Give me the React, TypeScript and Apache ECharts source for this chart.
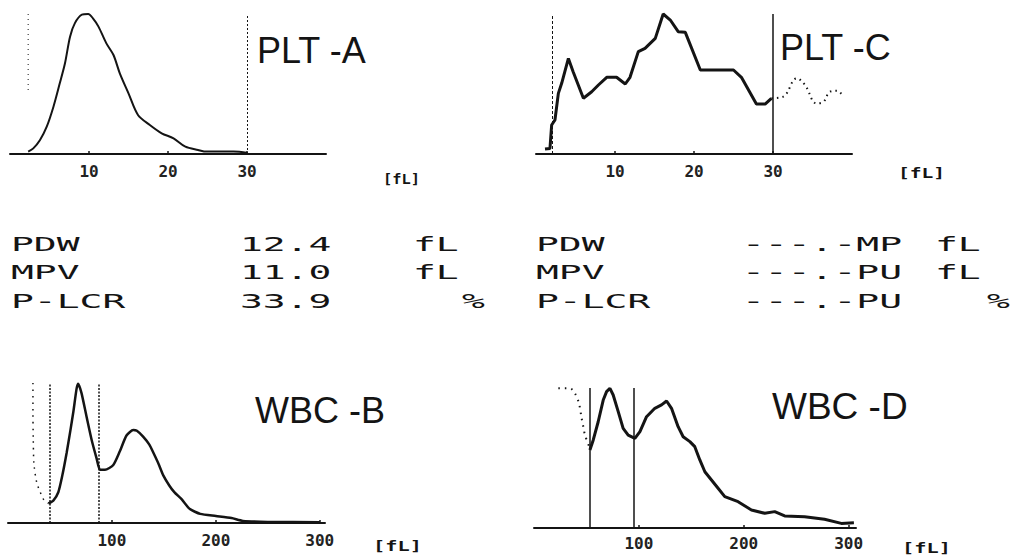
import React, { useEffect, useRef } from "react";
import * as echarts from "echarts";

// ---------------- data (x in fL, y = relative frequency, 0..100) ----------------
// PLT-A histogram
const pltAX = [2.3, 2.95, 3.8, 4.65, 5.5, 6.3, 6.96, 7.6, 8.2, 9.1, 9.9, 10.5, 11.2, 12.2, 13.1, 13.9, 15.0, 16.2, 17.7, 19.2, 20.7, 22.2, 23.8, 24.9, 28.3, 30.1];
const pltAY = [1.7, 4, 10, 19.5, 33.8, 50.5, 64.8, 83.8, 93.3, 99.5, 100, 96.9, 91, 79, 70.7, 57.6, 43.3, 27.9, 20.7, 14.8, 11.2, 5.2, 2.9, 1.7, 1.7, 0.7];
const pltALowerX = [2.3, 2.3];
const pltALowerY = [100, 44];
const pltAThresholds = [30];

// PLT-C histogram
const pltCX = [1.14, 1.77, 1.98, 2.4, 2.83, 3.25, 4.1, 4.7, 6.0, 7.05, 7.9, 8.95, 10.2, 11.3, 11.9, 12.95, 13.8, 15.1, 16.1, 17.0, 18.0, 18.9, 20.8, 25.0, 26.0, 27.9, 29.0, 29.8];
const pltCY = [3.6, 4, 20.7, 24.3, 43.3, 50.5, 68.3, 58.8, 39.8, 44.5, 49.3, 54.8, 54.8, 50, 54.8, 73.1, 75.5, 82.6, 100, 95.7, 87.4, 86.9, 60, 60, 54.8, 35.7, 35.7, 39.8];
const pltCDotX = [29.8, 31.3, 33.0, 34.05, 35.5, 36.4, 37.2, 38.1, 38.9];
const pltCDotY = [39.8, 41, 54, 49.3, 36.2, 37.4, 44.5, 45.2, 41];
const pltCThresholds = [2.0, 30];

// WBC-B histogram
const wbcBX = [38.8, 43.6, 48.4, 52, 56.4, 60, 63, 66, 67.6, 70.8, 75.6, 80.5, 85.3, 88.5, 93.3, 101.3, 107.5, 114, 120.5, 124, 130, 136, 140, 145, 149.4, 155, 160, 167, 175, 185, 200, 215, 226, 250, 300];
const wbcBY = [14, 16, 22, 33, 50, 66, 80, 96, 99.5, 92.6, 75.9, 59.3, 46, 38, 38, 41.4, 51, 62.5, 66.4, 65.9, 61.7, 56, 50, 42, 34, 27, 22, 17, 10, 6.5, 5, 3.5, 1.5, 0.8, 0.5];
const wbcBDotX = [24, 24, 24.3, 25, 27.6, 30.8, 33.4, 35.6, 38.8];
const wbcBDotY = [100, 80, 60, 42, 29, 22.4, 18, 15.2, 14];
const wbcBThresholds = [40, 87.5];

// WBC-D histogram
const wbcDX = [53.3, 56.5, 61.2, 66, 69.2, 72.4, 75.5, 80.3, 85, 89.8, 96.2, 101, 107.3, 115.2, 121.6, 126.4, 131.1, 137.4, 142.2, 148.6, 153.3, 158.1, 162.9, 169.2, 175.5, 181.9, 194.6, 207.3, 220, 229.5, 239, 258, 277, 293, 305];
const wbcDY = [55.7, 62.9, 75.9, 91.4, 97.4, 99.8, 95, 83.1, 71.2, 66.4, 64, 68.8, 79.5, 85.5, 87.9, 90.7, 85.5, 72.4, 65.2, 61.7, 58.1, 48.6, 40.2, 34.3, 28.4, 22.4, 18.8, 12.9, 10.5, 11.7, 8.6, 8.1, 6.2, 3.3, 3.8];
const wbcDDotX = [23.2, 34.3, 39, 42.9, 45.4, 47, 48.6, 53.3];
const wbcDDotY = [99.8, 99.8, 96.2, 89, 78.4, 72.4, 66.4, 57];
const wbcDThresholds = [53.3, 95.5];

// tick labels
const pltTicks = [10, 20, 30];
const wbcTicks = [100, 200, 300];

// text block
const tableLabels = ["PDW", "MPV", "P-LCR"];
const tableValuesA = ["12.4", "11.0", "33.9"];
const tableValuesC = ["---.-MP", "---.-PU", "---.-PU"];
const tableUnits = ["fL", "fL", "%"];
const panelTitles = ["PLT -A", "PLT -C", "WBC -B", "WBC -D"];
const unitLabel = "[fL]";

// ---------------- helpers ----------------
const zip = (xs: number[], ys: number[]) => xs.map((x, i) => [x, ys[i]]);
const INK = "#141414";
const MONO = "'DejaVu Sans Mono', 'Liberation Mono', monospace";
const SANS = "'Liberation Sans', Arial, sans-serif";

type Panel = {
  grid: { left: number; top: number; width: number; height: number };
  max: number;
  interval: number;
  ticks: number[];
  margin: number;
};

const panels: Panel[] = [
  { grid: { left: 10, top: 14, width: 316, height: 140 }, max: 40, interval: 10, ticks: pltTicks, margin: 9 },
  { grid: { left: 536, top: 14, width: 316, height: 140 }, max: 40, interval: 10, ticks: pltTicks, margin: 9 },
  { grid: { left: 8, top: 383, width: 317, height: 140 }, max: 305, interval: 100, ticks: wbcTicks, margin: 9 },
  { grid: { left: 534, top: 388, width: 322, height: 140 }, max: 307, interval: 100, ticks: wbcTicks, margin: 7 },
];

function vLines(values: number[], lineStyle: any) {
  return {
    silent: true,
    symbol: ["none", "none"],
    label: { show: false },
    lineStyle,
    emphasis: { disabled: true },
    data: values.map((v) => ({ xAxis: v })),
  };
}

function lineSeries(idx: number, data: number[][], width: number, type: any = "solid", extra: any = {}) {
  return {
    type: "line",
    xAxisIndex: idx,
    yAxisIndex: idx,
    data,
    symbol: "none",
    showSymbol: false,
    clip: false,
    silent: true,
    lineStyle: { color: INK, width, type },
    emphasis: { disabled: true },
    ...extra,
  };
}

function tableText(x: number, y: number, text: string) {
  return {
    type: "text",
    x,
    y,
    scaleX: 1.9,
    silent: true,
    style: { text, font: `20px ${MONO}`, fill: INK, textVerticalAlign: "middle", verticalAlign: "middle" },
  };
}

function plainText(x: number, y: number, text: string, font: string, scaleX = 1) {
  return {
    type: "text",
    x,
    y,
    scaleX,
    silent: true,
    style: { text, font, fill: INK, textVerticalAlign: "middle", verticalAlign: "middle" },
  };
}

export default function App() {
  const ref = useRef<HTMLDivElement>(null);

  useEffect(() => {
    if (!ref.current) return;
    const chart = echarts.init(ref.current, undefined, { renderer: "svg" });

    const rowY = [244, 272, 301];
    const graphic: any[] = [];
    // titles
    graphic.push(plainText(257, 50, panelTitles[0], `36px ${SANS}`));
    graphic.push(plainText(780, 47, panelTitles[1], `36px ${SANS}`));
    graphic.push(plainText(255, 410, panelTitles[2], `36px ${SANS}`));
    graphic.push(plainText(772, 406, panelTitles[3], `37px ${SANS}`));
    // unit labels
    graphic.push(plainText(383, 179, unitLabel, `bold 14px ${MONO}`, 1.1));
    graphic.push(plainText(898, 173, unitLabel, `bold 14px ${MONO}`, 1.4));
    graphic.push(plainText(373, 546, unitLabel, `bold 14px ${MONO}`, 1.45));
    graphic.push(plainText(902, 548, unitLabel, `bold 14px ${MONO}`, 1.45));
    // parameter table
    tableLabels.forEach((lab, i) => {
      graphic.push(tableText(11, rowY[i], lab));
      graphic.push(tableText(240, rowY[i], tableValuesA[i]));
      graphic.push(tableText(i === 2 ? 462 : 413, rowY[i], tableUnits[i]));
      graphic.push(tableText(536, rowY[i], lab));
      graphic.push(tableText(742, rowY[i], tableValuesC[i]));
      graphic.push(tableText(i === 2 ? 987 : 935, rowY[i], tableUnits[i]));
    });

    const option: any = {
      animation: false,
      backgroundColor: "#ffffff",
      grid: panels.map((p) => ({ ...p.grid, containLabel: false, outerBoundsMode: "none" })),
      xAxis: panels.map((p, i) => ({
        type: "value",
        gridIndex: i,
        min: 0,
        max: p.max,
        interval: p.interval,
        splitLine: { show: false },
        axisLine: { show: true, onZero: false, lineStyle: { color: INK, width: 2 } },
        axisTick: { show: true, inside: true, length: 3, lineStyle: { color: INK, width: 1.5 } },
        axisLabel: {
          show: true,
          margin: p.margin,
          color: "#222",
          fontFamily: MONO,
          fontWeight: "bold",
          fontSize: 16,
          showMinLabel: false,
          showMaxLabel: false,
          formatter: (v: number) => (p.ticks.includes(v) ? String(v) : ""),
        },
      })),
      yAxis: panels.map((p, i) => ({
        type: "value",
        gridIndex: i,
        min: 0,
        max: 100,
        show: false,
        splitLine: { show: false },
      })),
      series: [
        // PLT-A
        lineSeries(0, zip(pltAX, pltAY), 2, "solid", {
          smooth: 0.3,
          markLine: vLines(pltAThresholds, { color: INK, width: 1, type: [2, 2] }),
        }),
        lineSeries(0, zip(pltALowerX, pltALowerY), 1, [1, 4]),
        // PLT-C
        lineSeries(1, zip(pltCX, pltCY), 3, "solid", {
          markLine: vLines([pltCThresholds[1]], { color: INK, width: 1.5, type: "solid" }),
        }),
        lineSeries(1, zip(pltCDotX, pltCDotY), 2, [1.5, 4], {
          smooth: 0.4,
          markLine: vLines([pltCThresholds[0]], { color: INK, width: 1, type: [3, 2] }),
        }),
        // WBC-B
        lineSeries(2, zip(wbcBX, wbcBY), 2.5, "solid", {
          smooth: 0.2,
          markLine: vLines(wbcBThresholds, { color: INK, width: 1.5, type: [2, 1.5] }),
        }),
        lineSeries(2, zip(wbcBDotX, wbcBDotY), 1.5, [1.5, 5], { smooth: 0.3 }),
        // WBC-D
        lineSeries(3, zip(wbcDX, wbcDY), 3, "solid", {
          markLine: vLines(wbcDThresholds, { color: INK, width: 1.5, type: "solid" }),
        }),
        lineSeries(3, zip(wbcDDotX, wbcDDotY), 2, [1.5, 5], { smooth: 0.3 }),
      ],
      graphic,
    };

    chart.setOption(option);
    return () => chart.dispose();
  }, []);

  return (
    <div
      ref={ref}
      style={{ position: "fixed", left: 0, top: 0, width: 1011, height: 559, background: "#fff" }}
    />
  );
}
